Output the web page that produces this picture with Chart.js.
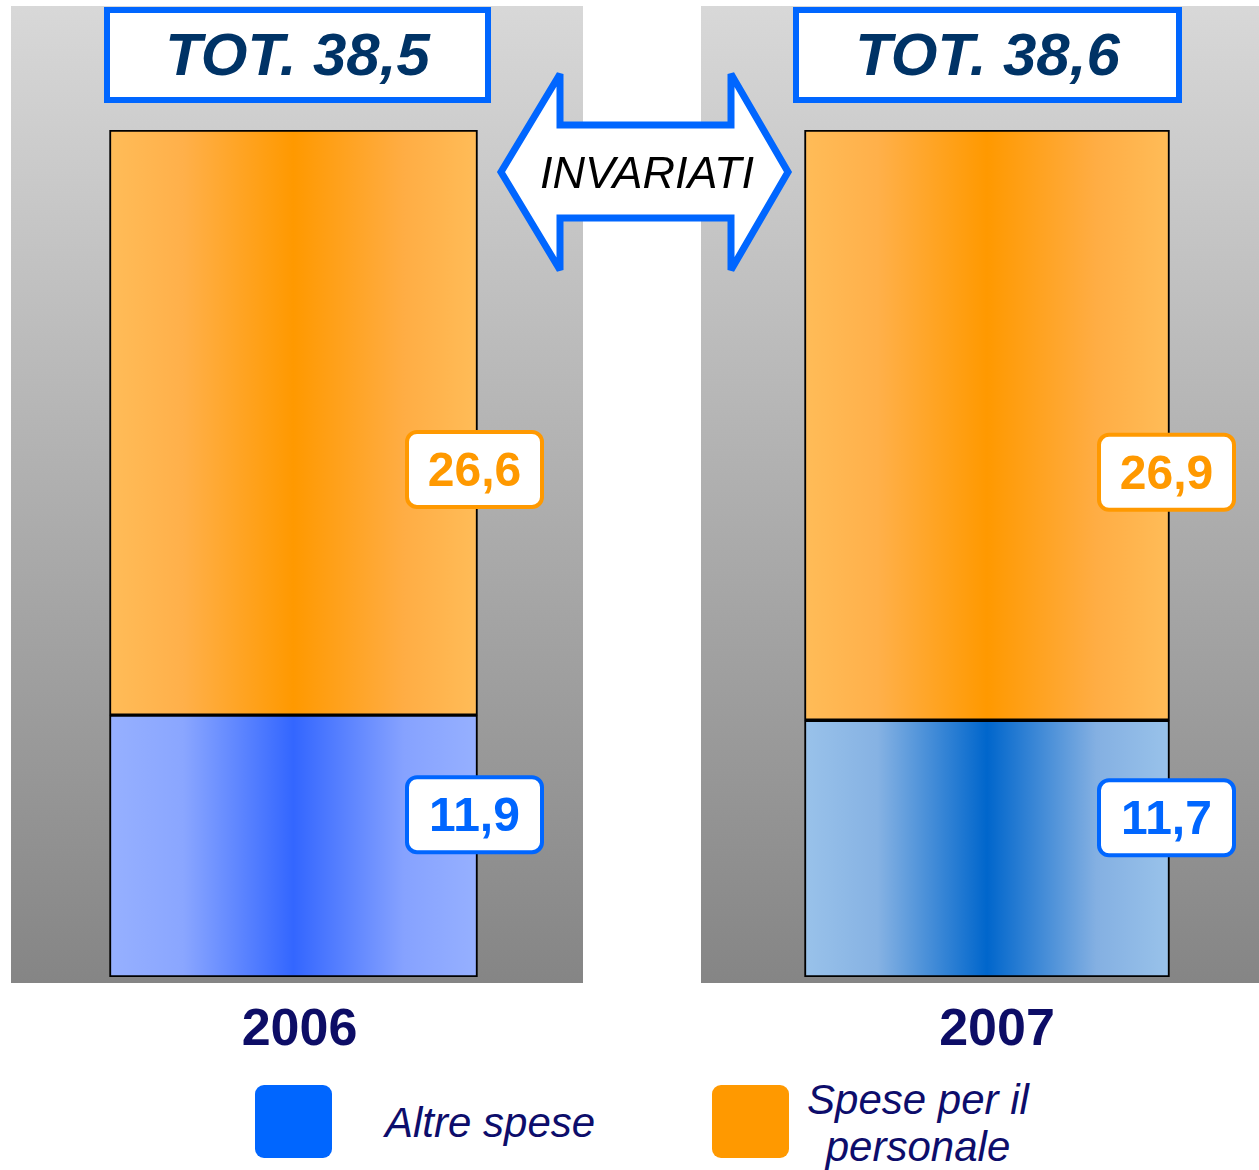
<!DOCTYPE html>
<html>
<head>
<meta charset="utf-8">
<script src="https://cdn.jsdelivr.net/npm/chart.js@4.4.1/dist/chart.umd.min.js"></script>
<style>
  body { margin: 0; background: #fff; font-family: "Liberation Sans", Arial, sans-serif; }
  #page { position: relative; width: 1259px; height: 1170px; overflow: hidden; }
  canvas { position: absolute; }
  .tot {
    position: absolute; box-sizing: border-box; height: 96px; top: 7px;
    border: 6px solid #0066ff; background: #fff;
    font: italic bold 60px "Liberation Sans", Arial, sans-serif; color: #003366;
    text-align: center; line-height: 84px;
  }
  .sw { position: absolute; top: 1085px; width: 77px; height: 73px; border-radius: 9px; }
  .lg { position: absolute; font: italic 42px "Liberation Sans", Arial, sans-serif; color: #0d0d6b; }
</style>
</head>
<body>
<div id="page">
  <canvas id="c2006" width="572" height="1060" style="left:11px;top:6px"></canvas>
  <canvas id="c2007" width="558" height="1060" style="left:701px;top:6px"></canvas>

  <div class="tot" id="tot0" style="left:104px;width:387px"></div>
  <div class="tot" id="tot1" style="left:793px;width:389px"></div>

  <svg style="position:absolute;left:0;top:0" width="1259" height="300">
    <polygon points="501,172 560,74 560,125 731,125 731,74 788,172 731,270 731,218 560,218 560,270"
      fill="#fff" stroke="#0066ff" stroke-width="7" stroke-linejoin="miter" stroke-miterlimit="3"/>
    <text x="647" y="172" text-anchor="middle" dominant-baseline="central"
      font-family="Liberation Sans, Arial, sans-serif" font-style="italic" font-size="45" fill="#000">INVARIATI</text>
  </svg>

  <div class="sw" style="left:255px;background:#0066ff"></div>
  <div class="lg" id="lg0" style="left:385px;top:1099px"></div>
  <div class="sw" style="left:712px;background:#ff9900"></div>
  <div class="lg" id="lg1" style="left:790px;top:1076px;width:256px;text-align:center;line-height:47px"></div>
</div>
<script>
const years = ["2006", "2007"];
const altreSpese = [11.9, 11.7];
const spesePersonale = [26.6, 26.9];
const totali = [38.5, 38.6];
const seriesNames = ["Altre spese", "Spese per il personale"];

const fmt = v => v.toFixed(1).replace(".", ",");

document.getElementById("tot0").textContent = "TOT. " + fmt(totali[0]);
document.getElementById("tot1").textContent = "TOT. " + fmt(totali[1]);
document.getElementById("lg0").textContent = seriesNames[0];
document.getElementById("lg1").innerHTML = "Spese per il<br>personale";

const orangeStops = ["#ffbc58", "#ffb04a", "#ff9900", "#ffad44", "#ffbc58"];
const blueStops = [
  ["#96b0ff", "#8aa6ff", "#3366ff", "#86a2ff", "#96b0ff"],
  ["#99c2ea", "#86b2e3", "#0066cc", "#84b0e2", "#99c2ea"]
];
const labelColors = ["#0066ff", "#ff9900"];
const labelFrac = [0.62, 0.42];

function barGradient(stops, barW) {
  return ctx => {
    const chart = ctx.chart;
    if (!chart.chartArea || !chart.scales.x) return stops[2];
    const x = chart.scales.x.getPixelForValue(0);
    const g = chart.ctx.createLinearGradient(x - barW / 2, 0, x + barW / 2, 0);
    g.addColorStop(0, stops[0]);
    g.addColorStop(0.2, stops[1]);
    g.addColorStop(0.5, stops[2]);
    g.addColorStop(0.8, stops[3]);
    g.addColorStop(1, stops[4]);
    return g;
  };
}

const panelBg = {
  id: "panelBg",
  beforeDraw(chart) {
    const { ctx, chartArea } = chart;
    const h = chartArea.bottom + 6;
    const g = ctx.createLinearGradient(0, 0, 0, h);
    g.addColorStop(0, "#d8d8d8");
    g.addColorStop(1, "#858585");
    ctx.save();
    ctx.fillStyle = g;
    ctx.fillRect(0, 0, chart.width, h);
    ctx.restore();
  }
};

const valueBoxes = {
  id: "valueBoxes",
  afterDatasetsDraw(chart) {
    const ctx = chart.ctx;
    chart.data.datasets.forEach((ds, di) => {
      chart.getDatasetMeta(di).data.forEach((bar, k) => {
        const p = bar.getProps(["x", "y", "base", "width"], true);
        const cx = p.x + p.width / 2 - 3;
        const cy = p.base - (p.base - p.y) * labelFrac[di];
        const w = 135, h = 75, r = 10;
        ctx.save();
        ctx.beginPath();
        ctx.roundRect(cx - w / 2, cy - h / 2, w, h, r);
        ctx.fillStyle = "#fff";
        ctx.fill();
        ctx.lineWidth = 4;
        ctx.strokeStyle = labelColors[di];
        ctx.stroke();
        ctx.fillStyle = labelColors[di];
        ctx.font = "bold 48px 'Liberation Sans', Arial, sans-serif";
        ctx.textAlign = "center";
        ctx.textBaseline = "middle";
        ctx.fillText(fmt(ds.data[k]), cx, cy + 3);
        ctx.restore();
      });
    });
  }
};

function makeChart(id, i, padL, padR, barW, labelShift) {
  return new Chart(document.getElementById(id), {
    type: "bar",
    data: {
      labels: [years[i]],
      datasets: [
        {
          label: seriesNames[0],
          data: [altreSpese[i]],
          backgroundColor: barGradient(blueStops[i], barW),
          borderColor: "#000",
          borderWidth: 2,
          borderSkipped: false,
          barThickness: barW
        },
        {
          label: seriesNames[1],
          data: [spesePersonale[i]],
          backgroundColor: barGradient(orangeStops, barW),
          borderColor: "#000",
          borderWidth: 2,
          borderSkipped: false,
          barThickness: barW
        }
      ]
    },
    options: {
      responsive: false,
      animation: false,
      layout: { padding: { top: 124, left: padL, right: padR, bottom: 0 } },
      plugins: { legend: { display: false }, tooltip: { enabled: false } },
      scales: {
        x: {
          stacked: true,
          grid: { display: false, drawTicks: false },
          border: { display: false },
          ticks: {
            color: "#0d0d66",
            font: { family: "'Liberation Sans', Arial, sans-serif", size: 52, weight: "bold" },
            padding: 22,
            labelOffset: labelShift
          },
          afterFit: scale => { scale.height = 89; }
        },
        y: {
          stacked: true,
          display: false,
          min: 0,
          max: totali[i]
        }
      }
    },
    plugins: [panelBg, valueBoxes]
  });
}

makeChart("c2006", 0, 0, 7, 368, 6);
makeChart("c2007", 1, 14, 0, 365, 10);
</script>
</body>
</html>
